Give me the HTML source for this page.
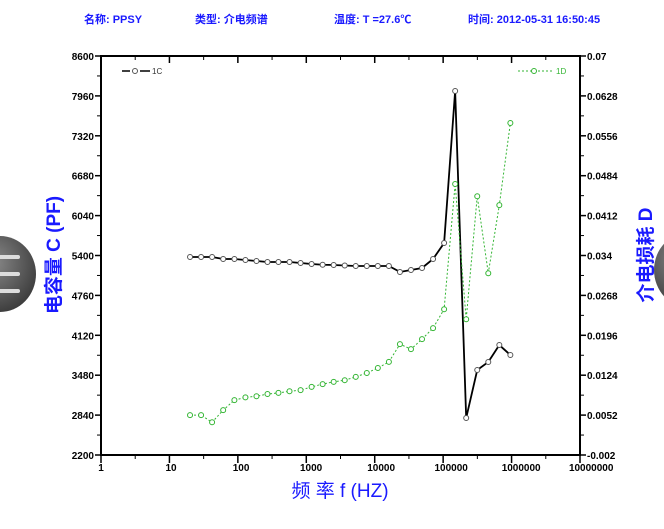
<!DOCTYPE html>
<html><head><meta charset="utf-8"><style>
body{margin:0;width:664px;height:529px;background:#fff;overflow:hidden;font-family:"Liberation Sans","Noto Sans CJK SC",sans-serif}
svg{position:absolute;left:0;top:0}
</style></head><body>
<svg width="664" height="529">
<defs><radialGradient id="g1" cx="40%" cy="35%" r="70%"><stop offset="0" stop-color="#8a8a8a"/><stop offset="1" stop-color="#3a3a3a"/></radialGradient></defs>
<g fill="#1a1aff" font-size="11" font-weight="bold">
<text x="84" y="23">名称: PPSY</text>
<text x="195" y="23">类型: 介电频谱</text>
<text x="334" y="23">温度: T =27.6℃</text>
<text x="468" y="23">时间: 2012-05-31 16:50:45</text>
</g>
<g><ellipse cx="0" cy="274" rx="36" ry="38" fill="url(#g1)"/><rect x="-10" y="255" width="30" height="4" rx="2" fill="#ddd"/><rect x="-10" y="272" width="30" height="4" rx="2" fill="#ddd"/><rect x="-10" y="289" width="30" height="4" rx="2" fill="#ddd"/></g>
<g><ellipse cx="690" cy="270" rx="36" ry="38" fill="url(#g1)"/></g>
<g id="axes"></g>
<g id="series"></g>
<text transform="translate(60,255) rotate(-90)" text-anchor="middle" fill="#1a1aff" font-size="19" font-weight="bold">电容量 C (PF)</text>
<text transform="translate(652,255) rotate(-90)" text-anchor="middle" fill="#1a1aff" font-size="19" font-weight="bold">介电损耗 D</text>
<text x="340" y="497" text-anchor="middle" fill="#1a1aff" font-size="19">频 率 f (HZ)</text>
<g><line x1="122" y1="71" x2="130" y2="71" stroke="#000" stroke-width="1.5"/><line x1="140" y1="71" x2="150" y2="71" stroke="#000" stroke-width="1.5"/><circle cx="135" cy="71" r="2.5" fill="none" stroke="#555"/><text x="152" y="74" font-size="8" fill="#333">1C</text></g>
<g><line x1="518" y1="71" x2="553" y2="71" stroke="#33b533" stroke-dasharray="2,2"/><circle cx="534" cy="71" r="2.5" fill="#fff" stroke="#33b533"/><text x="556" y="74" font-size="8" fill="#33b533">1D</text></g>
</svg>
<script>
const freqs=[20,29,42,61,89,129,187,271,392,569,825,1196,1734,2514,3646,5286,7665,11114,16115,23367,33882,49129,71237,103293,149775,217174,314903,456609,662083,960000];
const capValues=[5376,5376,5376,5344,5344,5328,5312,5296,5296,5296,5280,5264,5252,5248,5240,5232,5232,5232,5232,5136,5168,5200,5344,5600,8039,2794,3563,3692,3964,3804];
const lossValues=[0.0052,0.0052,0.0039,0.0061,0.0079,0.0084,0.0086,0.0090,0.0092,0.0095,0.0097,0.0103,0.0108,0.0112,0.0115,0.0121,0.0128,0.0137,0.0148,0.0180,0.0171,0.0189,0.0209,0.0243,0.0469,0.0225,0.0447,0.0308,0.0431,0.0579];
const xTickLabels=["1","10","100","1000","10000","100000","1000000","10000000"];
const leftTickLabels=["2200","2840","3480","4120","4760","5400","6040","6680","7320","7960","8600"];
const rightTickLabels=["-0.002","0.0052","0.0124","0.0196","0.0268","0.034","0.0412","0.0484","0.0556","0.0628","0.07"];
const L=101,R=580,T=56,B=455;
const xs=f=>L+Math.log10(f)/7*(R-L);
const yl=v=>B-(v-2200)/6400*(B-T);
const yr=v=>B-(v+0.002)/0.072*(B-T);
const NS="http://www.w3.org/2000/svg";
function mk(p,t,a){const e=document.createElementNS(NS,t);for(const k in a)e.setAttribute(k,a[k]);p.appendChild(e);return e;}
const ax=document.getElementById('axes');
const frame=mk(ax,'rect',{x:L,y:T,width:R-L,height:B-T,fill:'none',stroke:'#000','stroke-width':2});


xTickLabels.forEach((s,i)=>{const x=L+i*(R-L)/7;
mk(ax,'line',{x1:x,y1:B,x2:x,y2:B+8,stroke:'#000','stroke-width':1.5});
mk(ax,'line',{x1:x,y1:T,x2:x,y2:T+7,stroke:'#000','stroke-width':1.5});
if(i<7){const xm=x+(R-L)/14;mk(ax,'line',{x1:xm,y1:B,x2:xm,y2:B+4,stroke:'#000'});mk(ax,'line',{x1:xm,y1:T,x2:xm,y2:T+4,stroke:'#000'});}
const t=mk(ax,'text',{x:x+(i*1.6),y:B+16,'font-size':10,'font-weight':'bold','text-anchor':'middle',fill:'#000'});t.textContent=s;

});
leftTickLabels.forEach((s,i)=>{const y=B-i*(B-T)/10;
mk(ax,'line',{x1:L-6,y1:y,x2:L,y2:y,stroke:'#000','stroke-width':1.5});
mk(ax,'line',{x1:R,y1:y,x2:R+6,y2:y,stroke:'#000','stroke-width':1.5});
if(i<10){const ym=y-(B-T)/20;mk(ax,'line',{x1:L-4,y1:ym,x2:L,y2:ym,stroke:'#000'});mk(ax,'line',{x1:R,y1:ym,x2:R+4,y2:ym,stroke:'#000'});}
const t=mk(ax,'text',{x:L-7,y:y+4,'font-size':10,'font-weight':'bold','text-anchor':'end',fill:'#000'});t.textContent=s;


const t2=mk(ax,'text',{x:R+7,y:y+4,'font-size':10,'font-weight':'bold',fill:'#000'});t2.textContent=rightTickLabels[i];

});
const sg=document.getElementById('series');
const pc=mk(sg,'polyline',{points:freqs.map((f,i)=>xs(f)+','+yl(capValues[i])).join(' '),fill:'none',stroke:'#000','stroke-width':1.8});


const pd=mk(sg,'polyline',{points:freqs.map((f,i)=>xs(f)+','+yr(lossValues[i])).join(' '),fill:'none',stroke:'#33b533','stroke-width':1,'stroke-dasharray':'2,2'});


freqs.forEach((f,i)=>{
const c=mk(sg,'circle',{cx:xs(f),cy:yl(capValues[i]),r:2.5,fill:'#fff',stroke:'#555'});


const d=mk(sg,'circle',{cx:xs(f),cy:yr(lossValues[i]),r:2.5,fill:'#fff',stroke:'#33b533'});

});
</script>
</body></html>
